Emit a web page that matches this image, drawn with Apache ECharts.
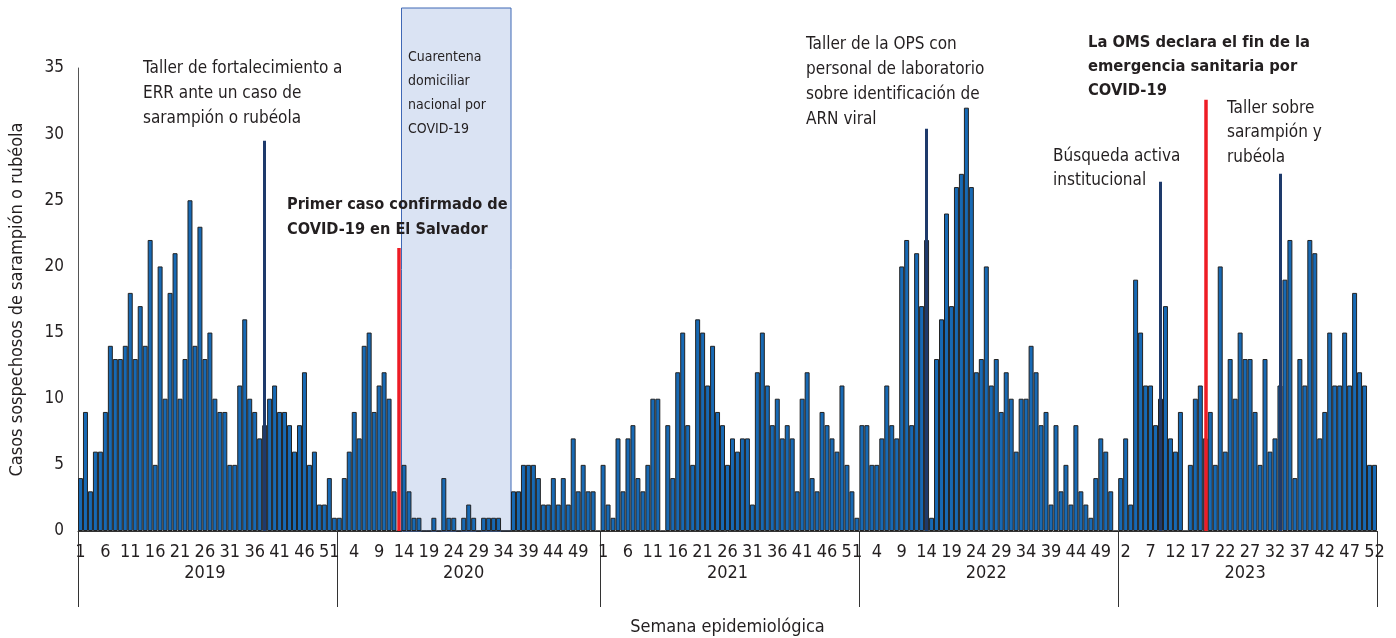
<!DOCTYPE html>
<html lang="es">
<head>
<meta charset="utf-8">
<title>Casos sospechosos de sarampión o rubéola</title>
<script src="https://cdn.jsdelivr.net/npm/echarts@6/dist/echarts.min.js"></script>
<style>
  html, body { margin: 0; padding: 0; background: #fff; }
  #chart { width: 1396px; height: 638px; }
</style>
</head>
<body>
<div id="chart"></div>
<script>
// weekly suspected measles/rubella cases, by epidemiological year
const years = ["2019", "2020", "2021", "2022", "2023"];
const weeksPerYear = [52, 53, 52, 52, 52];

const cases2019 = [4, 9, 3, 6, 6, 9, 14, 13, 13, 14, 18, 13, 17, 14, 22, 5, 20, 10, 18, 21, 10, 13, 25, 14, 23, 13, 15, 10, 9, 9, 5, 5, 11, 16, 10, 9, 7, 8, 10, 11, 9, 9, 8, 6, 8, 12, 5, 6, 2, 2, 4, 1];
const cases2020 = [1, 4, 6, 9, 7, 14, 15, 9, 11, 12, 10, 3, 0, 5, 3, 1, 1, 0, 0, 1, 0, 4, 1, 1, 0, 1, 2, 1, 0, 1, 1, 1, 1, 0, 0, 3, 3, 5, 5, 5, 4, 2, 2, 4, 2, 4, 2, 7, 3, 5, 3, 3, 0];
const cases2021 = [5, 2, 1, 7, 3, 7, 8, 4, 3, 5, 10, 10, 0, 8, 4, 12, 15, 8, 5, 16, 15, 11, 14, 9, 8, 5, 7, 6, 7, 7, 2, 12, 15, 11, 8, 10, 7, 8, 7, 3, 10, 12, 4, 3, 9, 8, 7, 6, 11, 5, 3, 1];
const cases2022 = [8, 8, 5, 5, 7, 11, 8, 7, 20, 22, 8, 21, 17, 22, 1, 13, 16, 24, 17, 26, 27, 32, 26, 12, 13, 20, 11, 13, 9, 12, 10, 6, 10, 10, 14, 12, 8, 9, 2, 8, 3, 5, 2, 8, 3, 2, 1, 4, 7, 6, 3, 0];
const cases2023 = [4, 7, 2, 19, 15, 11, 11, 8, 10, 17, 7, 6, 9, 0, 5, 10, 11, 7, 9, 5, 20, 6, 13, 10, 15, 13, 13, 9, 5, 13, 6, 7, 11, 19, 22, 4, 13, 11, 22, 21, 7, 9, 15, 11, 11, 15, 11, 18, 12, 11, 5, 5];

// events marked with vertical lines: [year, week], line height in cases, kind
const eventWeeks = [["2019", 38], ["2020", 13], ["2022", 14], ["2023", 9], ["2023", 18], ["2023", 33]];
const eventTops = [29.5, 21.4, 30.4, 26.4, 32.6, 27.0];
const eventKinds = ["actividad", "covid", "actividad", "actividad", "covid", "actividad"];

// national home quarantine, first and last week
const quarantineFrom = ["2020", 14];
const quarantineTo = ["2020", 35];

const yTicks = [0, 35, 5]; // min, max, step

const FONT = "'Liberation Sans Narrow', 'DejaVu Sans Condensed', 'Arial Narrow', sans-serif";

// ---- build axis categories ----
const yearOffset = {};
const weekLabels = [];
const yearLabels = [];
let acc = 0;
years.forEach((y, k) => {
  yearOffset[y] = acc;
  for (let w = 1; w <= weeksPerYear[k]; w++) {
    weekLabels.push(String(w));
    yearLabels.push(y);
  }
  acc += weeksPerYear[k];
});
const totalWeeks = acc;
const weekIndex = ([y, w]) => yearOffset[y] + w - 1;

const weeklyCases = [cases2019, cases2020, cases2021, cases2022, cases2023].flat();
const yearStarts = years.map((y) => yearOffset[y]);
const yearMids = years.map((y, k) => yearOffset[y] + Math.floor(weeksPerYear[k] / 2) - 1);

const kindColor = { actividad: "#1e3a6b", covid: "#ee1c25" };

const chart = echarts.init(document.getElementById("chart"));

const textEl = (x, y, text, opts = {}) => ({
  type: "text",
  x,
  y,
  z: 100,
  silent: true,
  style: {
    text,
    fontFamily: FONT,
    fontSize: opts.size || 17,
    fontWeight: opts.bold ? "bold" : "normal",
    lineHeight: opts.lh || 25,
    fill: "#231f20",
    verticalAlign: "top"
  }
});

const option = {
  animation: false,
  backgroundColor: "#fff",
  grid: [
    { left: 78, right: 19, top: 68, bottom: 107, outerBoundsMode: "none", containLabel: false },
    { left: 78, right: 19, top: 8, bottom: 107, outerBoundsMode: "none", containLabel: false }
  ],
  xAxis: [
    {
      type: "category",
      gridIndex: 0,
      position: "bottom",
      data: weekLabels,
      axisLine: { lineStyle: { color: "#333", width: 1 } },
      axisTick: { show: false },
      axisLabel: { interval: 4, margin: 12, fontSize: 18, color: "#231f20", fontFamily: FONT }
    },
    {
      type: "category",
      gridIndex: 0,
      position: "bottom",
      data: yearLabels,
      axisLine: { show: false },
      axisTick: {
        show: true,
        interval: (i) => yearStarts.includes(i),
        length: 76,
        lineStyle: { color: "#333", width: 1 }
      },
      axisLabel: {
        interval: (i) => yearMids.includes(i),
        margin: 33,
        fontSize: 18,
        color: "#231f20",
        fontFamily: FONT
      },
      name: "Semana epidemiológica",
      nameLocation: "middle",
      nameGap: 87,
      nameTextStyle: { fontSize: 18, color: "#231f20", fontFamily: FONT }
    },
    { type: "value", gridIndex: 1, min: 0, max: totalWeeks, show: false }
  ],
  yAxis: [
    {
      type: "value",
      gridIndex: 0,
      min: yTicks[0],
      max: yTicks[1],
      interval: yTicks[2],
      axisLine: { show: true, lineStyle: { color: "#555" } },
      axisTick: { show: false },
      splitLine: { show: false },
      axisLabel: { margin: 14, fontSize: 17, color: "#231f20", fontFamily: FONT },
      name: "Casos sospechosos de sarampión o rubéola",
      nameLocation: "middle",
      nameGap: 52,
      nameTextStyle: { fontSize: 18, color: "#231f20", fontFamily: FONT }
    },
    { type: "value", gridIndex: 1, min: 0, max: 1, show: false }
  ],
  series: [
    {
      type: "custom",
      xAxisIndex: 2,
      yAxisIndex: 1,
      z: 1,
      silent: true,
      data: [[weekIndex(quarantineFrom), weekIndex(quarantineTo) + 1]],
      renderItem(params, api) {
        const p0 = api.coord([api.value(0), 1]);
        const p1 = api.coord([api.value(1), 0]);
        return {
          type: "rect",
          shape: { x: p0[0], y: p0[1], width: p1[0] - p0[0], height: p1[1] - p0[1] },
          style: { fill: "#dae3f3", stroke: "#3f68b5", lineWidth: 1 }
        };
      }
    },
    {
      type: "bar",
      xAxisIndex: 0,
      yAxisIndex: 0,
      z: 2,
      data: weeklyCases,
      barCategoryGap: "0%",
      itemStyle: { color: "#1769b4", borderColor: "#222", borderWidth: 1 },
      markLine: {
        silent: true,
        symbol: "none",
        label: { show: false },
        data: eventWeeks.map((ew, k) => [
          {
            coord: [weekIndex(ew), 0],
            lineStyle: { color: kindColor[eventKinds[k]], width: eventKinds[k] === "covid" ? 3.5 : 3, type: "solid" }
          },
          { coord: [weekIndex(ew), eventTops[k]] }
        ])
      }
    }
  ],
  graphic: [
    textEl(143, 56, "Taller de fortalecimiento a\nERR ante un caso de\nsarampión o rubéola"),
    textEl(408, 45, "Cuarentena\ndomiciliar\nnacional por\nCOVID-19", { size: 14, lh: 24 }),
    textEl(287, 192, "Primer caso confirmado de\nCOVID-19 en El Salvador", { bold: true, size: 16.2 }),
    textEl(806, 32, "Taller de la OPS con\npersonal de laboratorio\nsobre identificación de\nARN viral"),
    textEl(1088, 31, "La OMS declara el fin de la\nemergencia sanitaria por\nCOVID-19", { bold: true, size: 16.4, lh: 24 }),
    textEl(1053, 145, "Búsqueda activa\ninstitucional", { lh: 24 }),
    textEl(1227, 96, "Taller sobre\nsarampión y\nrubéola", { lh: 24.5 })
  ]
};

chart.setOption(option);
window.addEventListener("resize", () => chart.resize());
</script>
</body>
</html>
